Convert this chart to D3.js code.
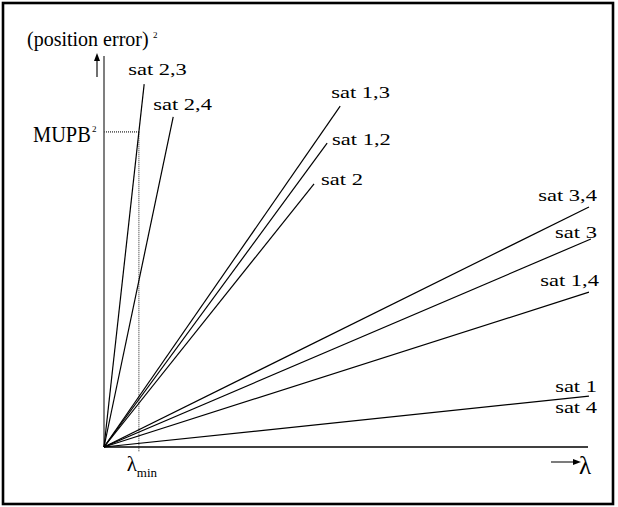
<!DOCTYPE html>
<html>
<head>
<meta charset="utf-8">
<script src="https://cdn.jsdelivr.net/npm/d3@7"></script>
<style>
  html, body { margin: 0; padding: 0; background: #fff; }
  svg { display: block; }
  text { font-family: "Liberation Serif", "Times New Roman", serif; fill: #000; }
</style>
</head>
<body>
<svg id="chart" width="618" height="507"></svg>
<script>
// ---- data (arbitrary units: lambda on x, (position error)^2 on y) ----
const satellites   = ["sat 2,3", "sat 2,4", "sat 1,3", "sat 1,2", "sat 2", "sat 3,4", "sat 3", "sat 1,4", "sat 1"];
const lambdaEnd    = [8.3, 14.3, 48.8, 46.1, 43.4, 100.2, 100.6, 100.2, 100.2];
const errorEnd     = [92.8, 84.4, 87.2, 77.7, 67.3, 61.4, 53.2, 39.6, 13.0];
const extraLabels  = ["sat 4"];          // second label sharing the last line
const mupb         = 80.6;               // MUPB^2 level
const lambdaMin    = 7.2;                // λ_min
const xDomain      = [0, 100];
const yDomain      = [0, 100];

// ---- layout ----
const svg = d3.select("#chart");
const x = d3.scaleLinear().domain(xDomain).range([104, 588]);
const y = d3.scaleLinear().domain(yDomain).range([447, 56]);

// label placement relative to each line end (px)
const labelLayout = {
  "sat 2,3": {dx: -16, dy: -9, anchor: "start"},
  "sat 2,4": {dx: -20, dy: -7, anchor: "start"},
  "sat 1,3": {dx: -9,  dy: -8, anchor: "start"},
  "sat 1,2": {dx: 5,   dy: 2,  anchor: "start"},
  "sat 2":   {dx: 7,   dy: 1,  anchor: "start"},
  "sat 3,4": {dx: 8,   dy: -6, anchor: "end"},
  "sat 3":   {dx: 6,   dy: -1, anchor: "end"},
  "sat 1,4": {dx: 10,  dy: -6, anchor: "end"},
  "sat 1":   {dx: 8,   dy: -4, anchor: "end"},
  "sat 4":   {dx: 8,   dy: 17, anchor: "end"}
};

// frame
svg.append("rect")
  .attr("x", 3).attr("y", 3).attr("width", 610).attr("height", 501)
  .attr("fill", "none").attr("stroke", "#000").attr("stroke-width", 2.6);

// dotted guides for MUPB^2 and λ_min
svg.append("line")
  .attr("x1", x(0)).attr("x2", x(lambdaMin))
  .attr("y1", y(mupb)).attr("y2", y(mupb))
  .attr("stroke", "#666").attr("stroke-width", 1.6).attr("stroke-dasharray", "1,1");
svg.append("line")
  .attr("x1", x(lambdaMin)).attr("x2", x(lambdaMin))
  .attr("y1", y(mupb)).attr("y2", y(0) + 5)
  .attr("stroke", "#666").attr("stroke-width", 1.4).attr("stroke-dasharray", "1,1");

// axes
svg.append("line")
  .attr("x1", x(0)).attr("x2", x(0)).attr("y1", y(0)).attr("y2", y(yDomain[1]))
  .attr("stroke", "#555").attr("stroke-width", 1.5);
svg.append("line")
  .attr("x1", x(0)).attr("x2", x(xDomain[1])).attr("y1", y(0)).attr("y2", y(0))
  .attr("stroke", "#000").attr("stroke-width", 1.5);

// satellite lines
const rows = satellites.map((s, i) => ({name: s, lx: lambdaEnd[i], ey: errorEnd[i]}));
svg.append("g").selectAll("line").data(rows).join("line")
  .attr("x1", x(0)).attr("y1", y(0))
  .attr("x2", d => x(d.lx)).attr("y2", d => y(d.ey))
  .attr("stroke", "#000").attr("stroke-width", 1.2);

// labels
const labelRows = rows.concat(extraLabels.map(n => ({name: n, lx: rows[rows.length-1].lx, ey: rows[rows.length-1].ey})));
svg.append("g").selectAll("text").data(labelRows).join("text")
  .attr("transform", d => {
    const L = labelLayout[d.name];
    return `translate(${x(d.lx) + L.dx},${y(d.ey) + L.dy}) scale(1.38,1)`;
  })
  .attr("text-anchor", d => labelLayout[d.name].anchor)
  .attr("font-size", 16.3)
  .text(d => d.name);

// y axis title
svg.append("text").attr("x", 27).attr("y", 46).attr("font-size", 20).text("(position error)");
svg.append("text").attr("x", 153).attr("y", 38).attr("font-size", 9).text("2");

// MUPB^2 label
svg.append("text").attr("transform", `translate(33,${y(mupb) + 10}) scale(0.85,1)`).attr("font-size", 24).text("MUPB");
svg.append("text").attr("x", 92).attr("y", y(mupb) + 0).attr("font-size", 9).text("2");

// λ_min label
svg.append("text").attr("x", x(lambdaMin) - 12).attr("y", 471).attr("font-size", 21).text("λ");
svg.append("text").attr("x", x(lambdaMin) - 2).attr("y", 477).attr("font-size", 13).text("min");

// up arrow
svg.append("line").attr("x1", 97).attr("x2", 97).attr("y1", 77).attr("y2", 60)
  .attr("stroke", "#222").attr("stroke-width", 1.3);
svg.append("path").attr("d", "M97,53 L94,61 L100,61 Z").attr("fill", "#000");

// right arrow + λ
svg.append("line").attr("x1", 551).attr("x2", 575).attr("y1", 462).attr("y2", 462)
  .attr("stroke", "#444").attr("stroke-width", 1.4);
svg.append("path").attr("d", "M581,462 L573,459 L573,465 Z").attr("fill", "#000");
svg.append("text").attr("x", 579).attr("y", 474).attr("font-size", 25).text("λ");
</script>
</body>
</html>
